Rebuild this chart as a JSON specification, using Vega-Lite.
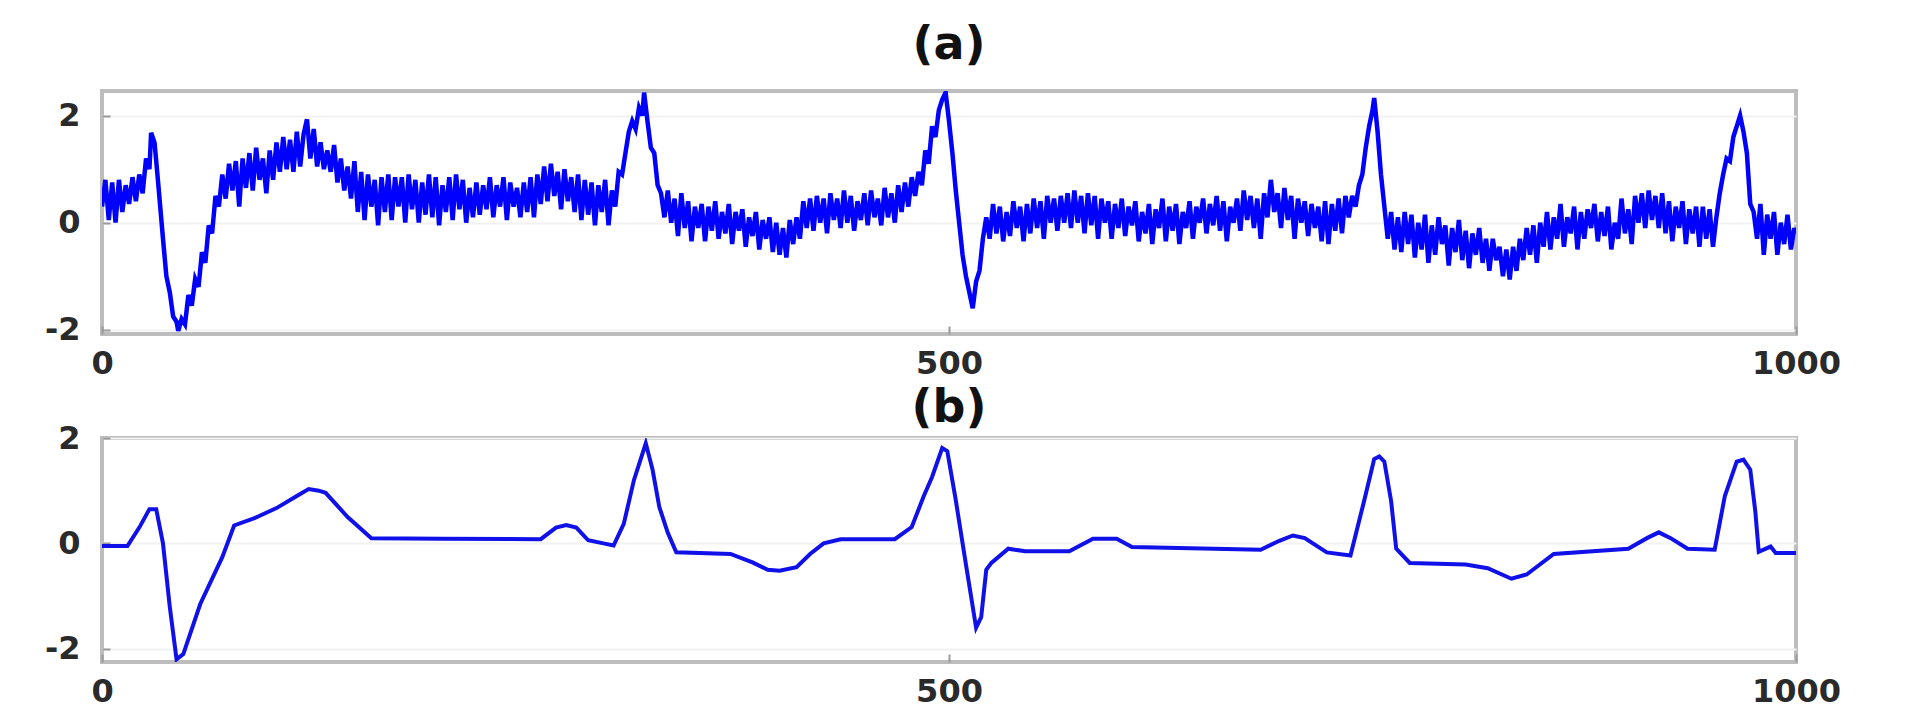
{
  "$schema": "https://vega.github.io/schema/vega-lite/v6.json",
  "background": "white",
  "padding": {"left": 42, "top": 20, "right": 10, "bottom": 10},
  "spacing": 2,
  "config": {
    "view": {"stroke": "#bdbdbd", "strokeWidth": 4},
    "font": "DejaVu Sans",
    "axis": {"labelFont": "DejaVu Sans", "labelFontWeight": "bold", "labelFontSize": 32, "labelColor": "#2a2a2a", "tickColor": "#9a9a9a", "tickWidth": 2, "domain": false, "title": null},
    "title": {"font": "DejaVu Sans", "fontSize": 46, "fontWeight": "bold", "color": "#111111", "anchor": "middle"}
  },
  "datasets": {
    "a": [
      {"x":0,"y":0.3},{"x":2,"y":0.8},{"x":4,"y":0.05},{"x":6,"y":0.75},{"x":8,"y":0.0},{"x":10,"y":0.8},{"x":12,"y":0.2},{"x":14,"y":0.7},{"x":16,"y":0.35},{"x":18,"y":0.85},{"x":20,"y":0.4},{"x":22,"y":0.9},{"x":24,"y":0.55},{"x":26,"y":1.2},{"x":28,"y":1.0},{"x":29,"y":1.68},{"x":31,"y":1.5},{"x":33,"y":0.8},{"x":36,"y":-0.3},{"x":38,"y":-1.0},{"x":40,"y":-1.3},{"x":42,"y":-1.75},{"x":44,"y":-1.85},{"x":45,"y":-2.02},{"x":47,"y":-1.8},{"x":49,"y":-1.9},{"x":51,"y":-1.35},{"x":53,"y":-1.55},{"x":55,"y":-1.05},{"x":57,"y":-1.2},{"x":59,"y":-0.55},{"x":61,"y":-0.75},{"x":63,"y":-0.05},{"x":65,"y":-0.2},{"x":67,"y":0.5},{"x":69,"y":0.3},{"x":71,"y":0.9},{"x":73,"y":0.45},{"x":75,"y":1.1},{"x":77,"y":0.6},{"x":79,"y":1.15},{"x":81,"y":0.3},{"x":83,"y":1.2},{"x":85,"y":0.65},{"x":87,"y":1.3},{"x":89,"y":0.6},{"x":91,"y":1.4},{"x":93,"y":0.8},{"x":95,"y":1.2},{"x":97,"y":0.55},{"x":99,"y":1.35},{"x":101,"y":0.8},{"x":103,"y":1.5},{"x":105,"y":0.95},{"x":107,"y":1.6},{"x":109,"y":1.0},{"x":111,"y":1.55},{"x":113,"y":0.95},{"x":115,"y":1.7},{"x":117,"y":1.05},{"x":119,"y":1.65},{"x":121,"y":1.93},{"x":123,"y":1.2},{"x":125,"y":1.75},{"x":127,"y":1.05},{"x":129,"y":1.5},{"x":131,"y":1.0},{"x":133,"y":1.35},{"x":135,"y":0.95},{"x":137,"y":1.45},{"x":139,"y":0.75},{"x":141,"y":1.2},{"x":143,"y":0.6},{"x":145,"y":1.05},{"x":147,"y":0.45},{"x":149,"y":1.15},{"x":151,"y":0.2},{"x":153,"y":0.95},{"x":155,"y":0.05},{"x":157,"y":0.9},{"x":159,"y":0.3},{"x":161,"y":0.8},{"x":163,"y":-0.05},{"x":165,"y":0.85},{"x":167,"y":0.2},{"x":169,"y":0.9},{"x":171,"y":0.05},{"x":173,"y":0.85},{"x":175,"y":0.3},{"x":177,"y":0.85},{"x":179,"y":0.0},{"x":181,"y":0.9},{"x":183,"y":0.25},{"x":185,"y":0.8},{"x":187,"y":0.0},{"x":189,"y":0.75},{"x":191,"y":0.15},{"x":193,"y":0.9},{"x":195,"y":0.1},{"x":197,"y":0.85},{"x":199,"y":-0.05},{"x":201,"y":0.7},{"x":203,"y":0.2},{"x":205,"y":0.85},{"x":207,"y":0.05},{"x":209,"y":0.9},{"x":211,"y":0.25},{"x":213,"y":0.8},{"x":215,"y":0.0},{"x":217,"y":0.65},{"x":219,"y":0.1},{"x":221,"y":0.75},{"x":223,"y":0.15},{"x":225,"y":0.7},{"x":227,"y":0.25},{"x":229,"y":0.85},{"x":231,"y":0.1},{"x":233,"y":0.7},{"x":235,"y":0.3},{"x":237,"y":0.85},{"x":239,"y":0.05},{"x":241,"y":0.75},{"x":243,"y":0.3},{"x":245,"y":0.65},{"x":247,"y":0.1},{"x":249,"y":0.75},{"x":251,"y":0.2},{"x":253,"y":0.85},{"x":255,"y":0.1},{"x":257,"y":0.9},{"x":259,"y":0.35},{"x":261,"y":1.05},{"x":263,"y":0.4},{"x":265,"y":1.1},{"x":267,"y":0.5},{"x":269,"y":0.95},{"x":271,"y":0.25},{"x":273,"y":1.0},{"x":275,"y":0.4},{"x":277,"y":0.85},{"x":279,"y":0.2},{"x":281,"y":0.9},{"x":283,"y":0.05},{"x":285,"y":0.8},{"x":287,"y":0.15},{"x":289,"y":0.75},{"x":291,"y":-0.05},{"x":293,"y":0.7},{"x":295,"y":0.2},{"x":297,"y":0.8},{"x":299,"y":-0.05},{"x":301,"y":0.6},{"x":303,"y":0.3},{"x":305,"y":0.95},{"x":307,"y":0.9},{"x":309,"y":1.3},{"x":311,"y":1.7},{"x":313,"y":1.9},{"x":315,"y":1.75},{"x":317,"y":2.15},{"x":319,"y":2.0},{"x":320,"y":2.43},{"x":322,"y":1.9},{"x":324,"y":1.4},{"x":326,"y":1.3},{"x":328,"y":0.7},{"x":330,"y":0.55},{"x":332,"y":0.1},{"x":334,"y":0.6},{"x":336,"y":0.0},{"x":338,"y":0.45},{"x":340,"y":-0.25},{"x":342,"y":0.55},{"x":344,"y":-0.1},{"x":346,"y":0.4},{"x":348,"y":-0.35},{"x":350,"y":0.3},{"x":352,"y":-0.1},{"x":354,"y":0.35},{"x":356,"y":-0.35},{"x":358,"y":0.3},{"x":360,"y":-0.15},{"x":362,"y":0.4},{"x":364,"y":-0.3},{"x":366,"y":0.2},{"x":368,"y":-0.2},{"x":370,"y":0.35},{"x":372,"y":-0.4},{"x":374,"y":0.2},{"x":376,"y":-0.15},{"x":378,"y":0.25},{"x":380,"y":-0.45},{"x":382,"y":0.1},{"x":384,"y":-0.25},{"x":386,"y":0.2},{"x":388,"y":-0.5},{"x":390,"y":0.05},{"x":392,"y":-0.3},{"x":394,"y":0.1},{"x":396,"y":-0.55},{"x":398,"y":0.0},{"x":400,"y":-0.6},{"x":402,"y":-0.1},{"x":404,"y":-0.65},{"x":406,"y":0.05},{"x":408,"y":-0.4},{"x":410,"y":0.1},{"x":412,"y":-0.3},{"x":414,"y":0.4},{"x":416,"y":-0.1},{"x":418,"y":0.45},{"x":420,"y":-0.15},{"x":422,"y":0.5},{"x":424,"y":0.0},{"x":426,"y":0.45},{"x":428,"y":-0.2},{"x":430,"y":0.55},{"x":432,"y":0.05},{"x":434,"y":0.45},{"x":436,"y":-0.1},{"x":438,"y":0.6},{"x":440,"y":0.0},{"x":442,"y":0.5},{"x":444,"y":-0.15},{"x":446,"y":0.4},{"x":448,"y":0.05},{"x":450,"y":0.55},{"x":452,"y":-0.05},{"x":454,"y":0.6},{"x":456,"y":0.1},{"x":458,"y":0.45},{"x":460,"y":-0.05},{"x":462,"y":0.65},{"x":464,"y":0.1},{"x":466,"y":0.55},{"x":468,"y":0.0},{"x":470,"y":0.7},{"x":472,"y":0.2},{"x":474,"y":0.75},{"x":476,"y":0.3},{"x":478,"y":0.85},{"x":480,"y":0.5},{"x":482,"y":0.95},{"x":484,"y":0.7},{"x":486,"y":1.35},{"x":488,"y":1.1},{"x":490,"y":1.8},{"x":492,"y":1.6},{"x":494,"y":2.1},{"x":496,"y":2.3},{"x":498,"y":2.43},{"x":500,"y":1.9},{"x":502,"y":1.3},{"x":504,"y":0.6},{"x":506,"y":0.0},{"x":508,"y":-0.6},{"x":510,"y":-1.0},{"x":512,"y":-1.3},{"x":514,"y":-1.6},{"x":516,"y":-1.1},{"x":518,"y":-0.9},{"x":520,"y":-0.3},{"x":522,"y":0.1},{"x":524,"y":-0.3},{"x":526,"y":0.35},{"x":528,"y":-0.2},{"x":530,"y":0.3},{"x":532,"y":-0.35},{"x":534,"y":0.2},{"x":536,"y":-0.25},{"x":538,"y":0.4},{"x":540,"y":-0.1},{"x":542,"y":0.3},{"x":544,"y":-0.35},{"x":546,"y":0.35},{"x":548,"y":-0.2},{"x":550,"y":0.45},{"x":552,"y":-0.1},{"x":554,"y":0.4},{"x":556,"y":-0.3},{"x":558,"y":0.5},{"x":560,"y":0.0},{"x":562,"y":0.45},{"x":564,"y":-0.15},{"x":566,"y":0.5},{"x":568,"y":0.0},{"x":570,"y":0.55},{"x":572,"y":-0.1},{"x":574,"y":0.6},{"x":576,"y":0.0},{"x":578,"y":0.5},{"x":580,"y":-0.2},{"x":582,"y":0.55},{"x":584,"y":-0.05},{"x":586,"y":0.5},{"x":588,"y":-0.3},{"x":590,"y":0.45},{"x":592,"y":0.0},{"x":594,"y":0.4},{"x":596,"y":-0.3},{"x":598,"y":0.35},{"x":600,"y":-0.1},{"x":602,"y":0.45},{"x":604,"y":-0.25},{"x":606,"y":0.3},{"x":608,"y":-0.05},{"x":610,"y":0.4},{"x":612,"y":-0.35},{"x":614,"y":0.2},{"x":616,"y":-0.2},{"x":618,"y":0.35},{"x":620,"y":-0.4},{"x":622,"y":0.25},{"x":624,"y":-0.1},{"x":626,"y":0.45},{"x":628,"y":-0.35},{"x":630,"y":0.3},{"x":632,"y":-0.15},{"x":634,"y":0.35},{"x":636,"y":-0.4},{"x":638,"y":0.2},{"x":640,"y":-0.1},{"x":642,"y":0.4},{"x":644,"y":-0.3},{"x":646,"y":0.3},{"x":648,"y":0.0},{"x":650,"y":0.45},{"x":652,"y":-0.2},{"x":654,"y":0.35},{"x":656,"y":-0.05},{"x":658,"y":0.5},{"x":660,"y":-0.15},{"x":662,"y":0.4},{"x":664,"y":-0.35},{"x":666,"y":0.3},{"x":668,"y":0.0},{"x":670,"y":0.45},{"x":672,"y":-0.15},{"x":674,"y":0.6},{"x":676,"y":0.05},{"x":678,"y":0.5},{"x":680,"y":-0.1},{"x":682,"y":0.45},{"x":684,"y":-0.3},{"x":686,"y":0.55},{"x":688,"y":0.1},{"x":690,"y":0.8},{"x":692,"y":0.2},{"x":694,"y":0.55},{"x":696,"y":-0.1},{"x":698,"y":0.65},{"x":700,"y":0.05},{"x":702,"y":0.5},{"x":704,"y":-0.3},{"x":706,"y":0.45},{"x":708,"y":0.0},{"x":710,"y":0.4},{"x":712,"y":-0.25},{"x":714,"y":0.35},{"x":716,"y":-0.1},{"x":718,"y":0.3},{"x":720,"y":-0.35},{"x":722,"y":0.4},{"x":724,"y":-0.4},{"x":726,"y":0.35},{"x":728,"y":-0.15},{"x":730,"y":0.45},{"x":732,"y":-0.2},{"x":734,"y":0.5},{"x":736,"y":0.1},{"x":738,"y":0.5},{"x":740,"y":0.3},{"x":742,"y":0.7},{"x":744,"y":0.9},{"x":746,"y":1.4},{"x":748,"y":1.8},{"x":750,"y":2.1},{"x":751,"y":2.33},{"x":753,"y":1.7},{"x":755,"y":0.9},{"x":757,"y":0.3},{"x":759,"y":-0.3},{"x":761,"y":0.2},{"x":763,"y":-0.5},{"x":765,"y":0.1},{"x":767,"y":-0.55},{"x":769,"y":0.2},{"x":771,"y":-0.4},{"x":773,"y":0.15},{"x":775,"y":-0.65},{"x":777,"y":0.0},{"x":779,"y":-0.5},{"x":781,"y":0.15},{"x":783,"y":-0.75},{"x":785,"y":-0.05},{"x":787,"y":-0.6},{"x":789,"y":0.1},{"x":791,"y":-0.4},{"x":793,"y":-0.05},{"x":795,"y":-0.8},{"x":797,"y":-0.1},{"x":799,"y":-0.55},{"x":801,"y":0.05},{"x":803,"y":-0.7},{"x":805,"y":-0.15},{"x":807,"y":-0.85},{"x":809,"y":-0.2},{"x":811,"y":-0.6},{"x":813,"y":-0.1},{"x":815,"y":-0.75},{"x":817,"y":-0.3},{"x":819,"y":-0.9},{"x":821,"y":-0.3},{"x":823,"y":-0.7},{"x":825,"y":-0.45},{"x":827,"y":-1.0},{"x":829,"y":-0.5},{"x":831,"y":-1.06},{"x":833,"y":-0.45},{"x":835,"y":-0.9},{"x":837,"y":-0.3},{"x":839,"y":-0.7},{"x":841,"y":-0.1},{"x":843,"y":-0.6},{"x":845,"y":-0.05},{"x":847,"y":-0.75},{"x":849,"y":0.0},{"x":851,"y":-0.45},{"x":853,"y":0.2},{"x":855,"y":-0.5},{"x":857,"y":0.1},{"x":859,"y":-0.3},{"x":861,"y":0.35},{"x":863,"y":-0.45},{"x":865,"y":0.1},{"x":867,"y":-0.2},{"x":869,"y":0.3},{"x":871,"y":-0.5},{"x":873,"y":0.2},{"x":875,"y":-0.3},{"x":877,"y":0.25},{"x":879,"y":-0.1},{"x":881,"y":0.35},{"x":883,"y":-0.35},{"x":885,"y":0.2},{"x":887,"y":-0.25},{"x":889,"y":0.3},{"x":891,"y":-0.5},{"x":893,"y":0.0},{"x":895,"y":-0.3},{"x":897,"y":0.45},{"x":899,"y":-0.2},{"x":901,"y":0.25},{"x":903,"y":-0.4},{"x":905,"y":0.5},{"x":907,"y":0.0},{"x":909,"y":0.55},{"x":911,"y":-0.1},{"x":913,"y":0.6},{"x":915,"y":0.05},{"x":917,"y":0.5},{"x":919,"y":-0.1},{"x":921,"y":0.55},{"x":923,"y":-0.2},{"x":925,"y":0.4},{"x":927,"y":-0.35},{"x":929,"y":0.3},{"x":931,"y":-0.1},{"x":933,"y":0.4},{"x":935,"y":-0.4},{"x":937,"y":0.25},{"x":939,"y":-0.2},{"x":941,"y":0.3},{"x":943,"y":-0.45},{"x":945,"y":0.3},{"x":947,"y":-0.3},{"x":949,"y":0.25},{"x":951,"y":-0.45},{"x":953,"y":0.1},{"x":955,"y":0.55},{"x":957,"y":0.9},{"x":959,"y":1.2},{"x":961,"y":1.15},{"x":963,"y":1.6},{"x":965,"y":1.8},{"x":967,"y":2.0},{"x":969,"y":1.7},{"x":971,"y":1.3},{"x":973,"y":0.35},{"x":975,"y":0.2},{"x":977,"y":-0.3},{"x":979,"y":0.35},{"x":981,"y":-0.6},{"x":983,"y":0.15},{"x":985,"y":-0.3},{"x":987,"y":0.2},{"x":989,"y":-0.6},{"x":991,"y":0.0},{"x":993,"y":-0.4},{"x":995,"y":0.15},{"x":997,"y":-0.5},{"x":999,"y":-0.1},{"x":1000,"y":-0.2}
    ],
    "b": [
      {"x":0,"y":-0.05},{"x":15,"y":-0.05},{"x":22,"y":0.3},{"x":28,"y":0.65},{"x":32,"y":0.65},{"x":36,"y":0.0},{"x":40,"y":-1.2},{"x":44,"y":-2.2},{"x":48,"y":-2.1},{"x":58,"y":-1.15},{"x":71,"y":-0.26},{"x":78,"y":0.34},{"x":90,"y":0.48},{"x":103,"y":0.67},{"x":115,"y":0.9},{"x":122,"y":1.03},{"x":128,"y":1.0},{"x":132,"y":0.96},{"x":145,"y":0.5},{"x":159,"y":0.1},{"x":200,"y":0.09},{"x":259,"y":0.08},{"x":268,"y":0.3},{"x":274,"y":0.35},{"x":280,"y":0.3},{"x":287,"y":0.06},{"x":296,"y":0.0},{"x":302,"y":-0.04},{"x":308,"y":0.37},{"x":314,"y":1.2},{"x":321,"y":1.9},{"x":325,"y":1.4},{"x":329,"y":0.69},{"x":334,"y":0.2},{"x":339,"y":-0.17},{"x":371,"y":-0.2},{"x":384,"y":-0.36},{"x":393,"y":-0.5},{"x":400,"y":-0.52},{"x":410,"y":-0.45},{"x":418,"y":-0.2},{"x":426,"y":0.0},{"x":436,"y":0.08},{"x":468,"y":0.08},{"x":478,"y":0.31},{"x":485,"y":0.89},{"x":490,"y":1.26},{"x":496,"y":1.81},{"x":499,"y":1.75},{"x":504,"y":0.82},{"x":510,"y":-0.4},{"x":516,"y":-1.6},{"x":519,"y":-1.4},{"x":522,"y":-0.5},{"x":525,"y":-0.37},{"x":535,"y":-0.1},{"x":545,"y":-0.15},{"x":571,"y":-0.15},{"x":585,"y":0.09},{"x":599,"y":0.09},{"x":608,"y":-0.07},{"x":684,"y":-0.12},{"x":695,"y":0.05},{"x":703,"y":0.15},{"x":710,"y":0.1},{"x":723,"y":-0.17},{"x":737,"y":-0.23},{"x":745,"y":0.8},{"x":751,"y":1.6},{"x":754,"y":1.65},{"x":757,"y":1.55},{"x":761,"y":0.8},{"x":764,"y":-0.1},{"x":772,"y":-0.37},{"x":805,"y":-0.4},{"x":818,"y":-0.47},{"x":832,"y":-0.67},{"x":841,"y":-0.59},{"x":857,"y":-0.2},{"x":901,"y":-0.1},{"x":912,"y":0.1},{"x":919,"y":0.21},{"x":926,"y":0.1},{"x":936,"y":-0.1},{"x":952,"y":-0.12},{"x":958,"y":0.9},{"x":965,"y":1.55},{"x":969,"y":1.59},{"x":973,"y":1.4},{"x":976,"y":0.6},{"x":978,"y":-0.16},{"x":985,"y":-0.06},{"x":988,"y":-0.18},{"x":1000,"y":-0.18}
    ]
  },
  "vconcat": [
    {
      "title": {"text": "(a)", "offset": 22},
      "width": 1694,
      "height": 243,
      "data": {"name": "a"},
      "mark": {"type": "line", "color": "#0000ff", "strokeWidth": 4.5, "clip": true},
      "encoding": {
        "x": {"field": "x", "type": "quantitative", "scale": {"domain": [0, 1000], "nice": false, "zero": false},
              "axis": {"values": [0, 500, 1000], "tickSize": -8, "labelPadding": 22, "grid": false, "labelFlush": false, "labelExpr": "'' + datum.value"}},
        "y": {"field": "y", "type": "quantitative", "scale": {"domain": [-2.08, 2.46], "nice": false, "zero": false},
              "axis": {"values": [-2, 0, 2], "tickSize": -8, "labelPadding": 30, "grid": true, "gridColor": "#f2f2f2", "gridWidth": 2, "labelExpr": "'' + datum.value", "labelBaseline": "middle"}}
      }
    },
    {
      "title": {"text": "(b)", "offset": -10},
      "width": 1694,
      "height": 224,
      "data": {"name": "b"},
      "mark": {"type": "line", "color": "#1010e8", "strokeWidth": 4, "clip": true},
      "encoding": {
        "x": {"field": "x", "type": "quantitative", "scale": {"domain": [0, 1000], "nice": false, "zero": false},
              "axis": {"values": [0, 500, 1000], "tickSize": -8, "labelPadding": 22, "grid": false, "labelFlush": false, "labelExpr": "'' + datum.value"}},
        "y": {"field": "y", "type": "quantitative", "scale": {"domain": [-2.25, 2.0], "nice": false, "zero": false},
              "axis": {"values": [-2, 0, 2], "tickSize": -8, "labelPadding": 30, "grid": true, "gridColor": "#f2f2f2", "gridWidth": 2, "labelExpr": "'' + datum.value", "labelBaseline": "middle"}}
      }
    }
  ]
}
